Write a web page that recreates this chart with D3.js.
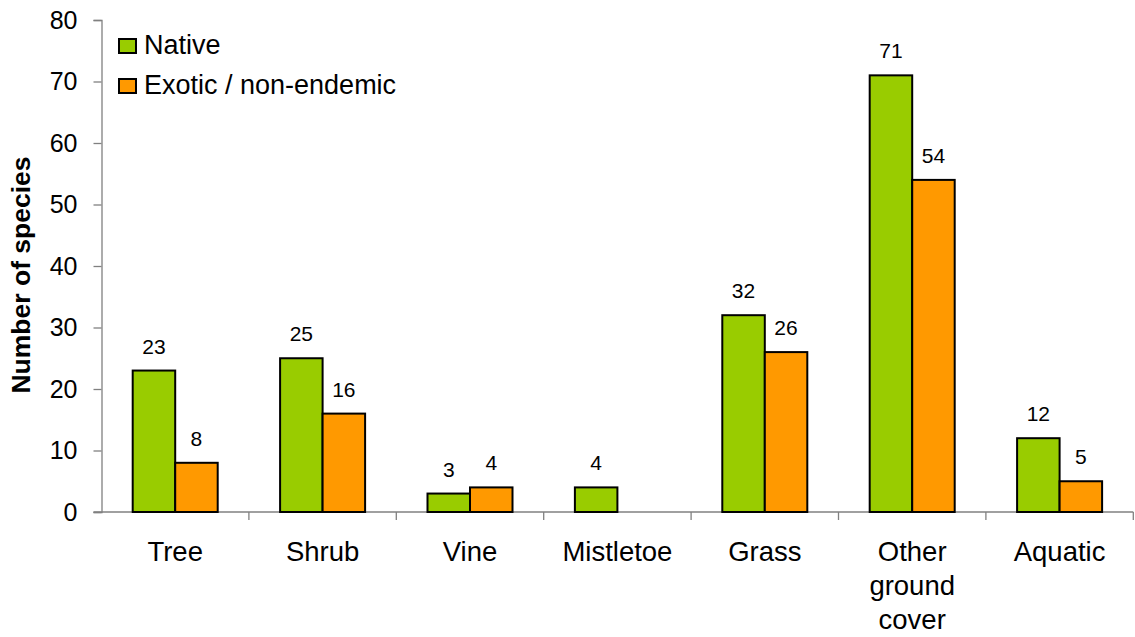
<!DOCTYPE html>
<html>
<head>
<meta charset="utf-8">
<script src="https://cdn.jsdelivr.net/npm/d3@7"></script>
<style>
  html, body { margin: 0; padding: 0; background: #fff; }
  svg text { font-family: Arial, "Liberation Sans", sans-serif; fill: #000; }
</style>
</head>
<body>
<svg id="chart" width="1135" height="637"></svg>
<script>
// Plant species counts by growth form
const categories = ["Tree", "Shrub", "Vine", "Mistletoe", "Grass", "Other ground cover", "Aquatic"];
const seriesNames = ["Native", "Exotic / non-endemic"];
const nativeCounts = [23, 25, 3, 4, 32, 71, 12];
const exoticCounts = [8, 16, 4, null, 26, 54, 5];
const yTicks = [0, 10, 20, 30, 40, 50, 60, 70, 80];
const seriesColors = ["#99CC00", "#FF9900"];

const svg = d3.select("#chart");
const plotLeft = 101.5, plotRight = 1133.3, plotTop = 20, plotBottom = 512;

const x = d3.scaleBand().domain(categories).range([plotLeft, plotRight]).padding(0);
const xSub = d3.scaleBand().domain(seriesNames).range([0, x.bandwidth()])
  .paddingInner(0).paddingOuter(0.734);
const y = d3.scaleLinear().domain([0, 80]).range([plotBottom, plotTop]);

const axisColor = "#808080";

// y axis
const yAxis = svg.append("g").attr("transform", `translate(${plotLeft},0)`)
  .call(d3.axisLeft(y).tickValues(yTicks).tickSize(8).tickPadding(16));
yAxis.select(".domain").attr("stroke", axisColor).attr("stroke-width", 1.3);
yAxis.selectAll(".tick line").attr("stroke", axisColor).attr("stroke-width", 1.3);
yAxis.selectAll(".tick text").attr("font-size", 25).attr("font-family", "Arial, 'Liberation Sans', sans-serif").attr("fill", "#000");

// x axis baseline with boundary ticks
const xAxisG = svg.append("g");
xAxisG.append("line").attr("x1", plotLeft - 8).attr("x2", plotRight)
  .attr("y1", y(0)).attr("y2", y(0))
  .attr("stroke", axisColor).attr("stroke-width", 1.3);
const boundaries = categories.map(c => x(c)).concat([x(categories[categories.length - 1]) + x.bandwidth()]);
xAxisG.selectAll("line.bt").data(boundaries.slice(1)).join("line").attr("class", "bt")
  .attr("x1", d => d).attr("x2", d => d)
  .attr("y1", y(0)).attr("y2", y(0) + 8)
  .attr("stroke", axisColor).attr("stroke-width", 1.3);

// category labels (wrapped)
const labelLines = { "Other ground cover": ["Other", "ground", "cover"] };
categories.forEach(c => {
  const lines = labelLines[c] || [c];
  const t = svg.append("text").attr("text-anchor", "middle").attr("font-size", 27.5)
    .attr("x", x(c) + x.bandwidth() / 2).attr("y", 561);
  lines.forEach((ln, i) => {
    t.append("tspan").attr("x", x(c) + x.bandwidth() / 2).attr("dy", i === 0 ? 0 : 34).text(ln);
  });
});

// y axis title
svg.append("text")
  .attr("transform", `translate(29.5,${(plotTop + plotBottom) / 2 + 9}) rotate(-90)`)
  .attr("text-anchor", "middle").attr("font-size", 26.5).attr("font-weight", "bold")
  .text("Number of species");

// bars
const seriesData = [nativeCounts, exoticCounts];
seriesNames.forEach((name, si) => {
  const vals = categories.map((c, i) => ({ c, v: seriesData[si][i] })).filter(d => d.v != null && d.v > 0);
  const g = svg.append("g");
  g.selectAll("rect").data(vals).join("rect")
    .attr("x", d => x(d.c) + xSub(name))
    .attr("y", d => y(d.v))
    .attr("width", xSub.bandwidth())
    .attr("height", d => y(0) - y(d.v))
    .attr("fill", seriesColors[si])
    .attr("stroke", "#000").attr("stroke-width", 2);
  g.selectAll("text").data(vals).join("text")
    .attr("x", d => x(d.c) + xSub(name) + xSub.bandwidth() / 2)
    .attr("y", d => y(d.v) - 17)
    .attr("text-anchor", "middle").attr("font-size", 21)
    .text(d => d.v);
});

// legend
const legend = svg.append("g");
seriesNames.forEach((name, i) => {
  const yy = 39 + i * 40;
  legend.append("rect").attr("x", 119).attr("y", yy).attr("width", 17).attr("height", 14)
    .attr("fill", seriesColors[i]).attr("stroke", "#000").attr("stroke-width", 2);
  legend.append("text").attr("x", 144).attr("y", yy + 15).attr("font-size", 27).text(name);
});
</script>
</body>
</html>
